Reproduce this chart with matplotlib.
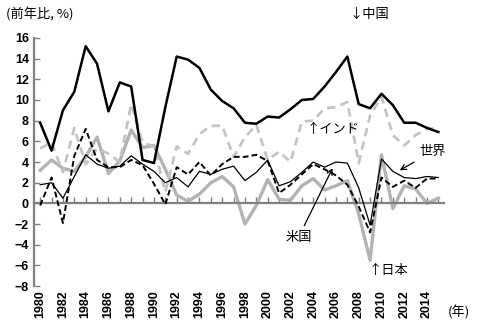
import numpy as np
import matplotlib
matplotlib.use("Agg")
import matplotlib.pyplot as plt

plt.rcParams['font.family'] = ['Noto Sans CJK JP', 'DejaVu Sans']

years = np.arange(1980, 2016)

# real GDP growth, % y/y
china = [7.8, 5.1, 9.0, 10.8, 15.2, 13.5, 8.9, 11.7, 11.3, 4.2, 3.9, 9.3,
         14.2, 13.9, 13.1, 11.0, 9.9, 9.2, 7.8, 7.7, 8.4, 8.3, 9.1, 10.0,
         10.1, 11.3, 12.7, 14.2, 9.6, 9.2, 10.6, 9.5, 7.8, 7.8, 7.3, 6.9]
india = [5.3, 5.9, 3.0, 7.3, 3.8, 5.3, 4.8, 4.0, 9.6, 5.9, 5.5, 1.1,
         5.5, 4.8, 6.7, 7.5, 7.5, 4.5, 6.4, 7.6, 4.2, 5.0, 4.0, 7.9,
         8.0, 9.2, 9.3, 9.8, 3.9, 8.5, 10.3, 6.6, 5.6, 6.6, 7.2, 7.3]
world = [1.8, 2.0, 0.5, 2.6, 4.7, 3.8, 3.4, 3.6, 4.6, 3.8, 3.1, 2.0,
         2.5, 1.6, 3.1, 2.8, 3.3, 3.6, 2.2, 3.0, 4.2, 1.7, 2.1, 3.0,
         4.0, 3.5, 4.0, 3.9, 1.5, -2.1, 4.3, 3.1, 2.5, 2.4, 2.6, 2.5]
usa = [-0.2, 2.5, -1.9, 4.6, 7.2, 4.2, 3.5, 3.5, 4.2, 3.7, 1.9, -0.1,
       3.5, 2.8, 4.0, 2.7, 3.8, 4.5, 4.5, 4.7, 4.1, 1.0, 1.8, 2.8,
       3.8, 3.3, 2.7, 1.8, -0.3, -2.8, 2.5, 1.6, 2.2, 1.5, 2.4, 2.4]
japan = [3.2, 4.2, 3.4, 3.1, 4.5, 6.4, 2.9, 4.1, 7.1, 5.4, 5.6, 3.3,
         0.8, 0.2, 0.9, 2.0, 2.6, 1.6, -2.0, -0.2, 2.3, 0.4, 0.3, 1.7,
         2.4, 1.3, 1.7, 2.2, -1.0, -5.5, 4.7, -0.5, 1.7, 1.4, 0.0, 0.5]

label_years = np.arange(1980, 2016, 2)

fig = plt.figure(figsize=(4.79, 3.27), dpi=100)
ax = fig.add_axes([0.072, 0.125, 0.855, 0.759])

ax.plot(years, japan, color='#b3b3b3', lw=2.4, zorder=2)
ax.plot(years, india, color='#c4c4c4', lw=2.0, ls=(0, (3, 2)), zorder=2)
ax.plot(years, usa, color='black', lw=1.4, ls=(0, (3, 1.6)), zorder=3)
ax.plot(years, world, color='black', lw=0.9, zorder=3)
ax.plot(years, china, color='black', lw=1.8, zorder=4)

ax.set_xlim(1979.5, 2015.5)
ax.set_ylim(-8, 16)

for s in ['top', 'right']:
    ax.spines[s].set_visible(False)
ax.spines['left'].set_color('#808080')
ax.spines['left'].set_linewidth(1.6)
ax.spines['bottom'].set_position(('data', 0))
ax.spines['bottom'].set_color('#808080')
ax.spines['bottom'].set_linewidth(1.6)

ax.set_yticks(np.arange(-8, 17, 2))
ax.set_yticklabels([f'{v}'.replace('-', '\u2212') for v in range(-8, 17, 2)],
                   fontfamily='Liberation Sans', fontweight='bold', fontsize=9)
ax.tick_params(axis='y', direction='in', length=4, width=1, color='#808080', pad=4)

ax.set_xticks(years)
ax.tick_params(axis='x', direction='in', length=4, width=1, color='#808080',
               labelbottom=False)

# year labels along the bottom edge
sec = ax.secondary_xaxis(0)
sec.spines['bottom'].set_visible(False)
sec.set_xticks(label_years)
sec.set_xticklabels([str(y) for y in label_years], rotation=90,
                    fontfamily='Liberation Sans', fontweight='bold', fontsize=9)
sec.tick_params(axis='x', length=0, pad=3)

fig.text(0.012, 0.955, '(前年比, %)', fontsize=9.5, ha='left', va='center')
fig.text(0.958, 0.045, '(年)', fontsize=9.5, ha='center', va='center')

ax.text(2008.9, 18.3, '↓中国', fontsize=9.5, ha='center', va='center', clip_on=False)
ax.text(2005.7, 7.1, '↑インド', fontsize=9.5, ha='center', va='center')
ax.text(2010.6, -6.5, '↑日本', fontsize=9.5, ha='center', va='center')

arrow = dict(arrowstyle='->', color='black', lw=0.9, shrinkA=2, shrinkB=0)
ax.annotate('世界', xy=(2011.6, 3.2), xytext=(2014.5, 5.0), fontsize=9.5,
            ha='center', va='center', arrowprops=arrow)
ax.annotate('米国', xy=(2005.7, 3.4), xytext=(2002.7, -3.3), fontsize=9.5,
            ha='center', va='center', arrowprops=arrow)

fig.savefig('out.png', dpi=100)
